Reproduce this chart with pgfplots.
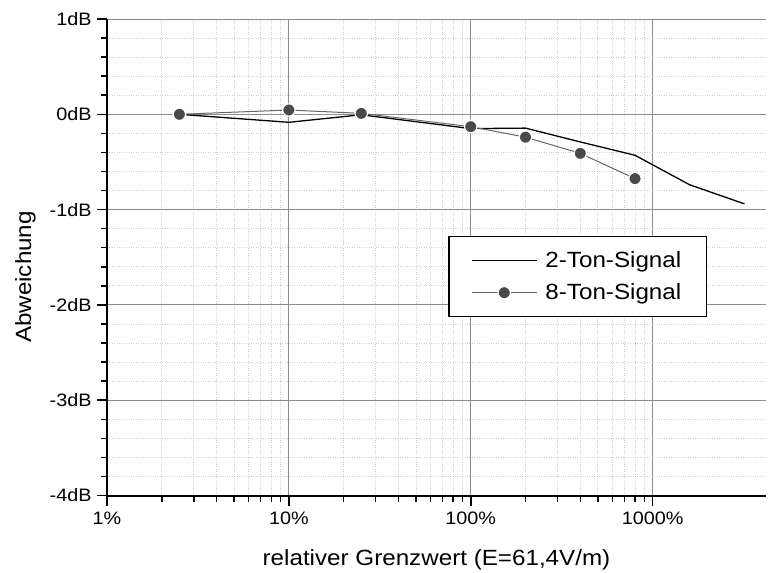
\documentclass[border=0pt]{standalone}
\usepackage{fontspec}
\setmainfont{Liberation Sans}[FakeStretch=1.1]
\usepackage{pgfplots}
\pgfplotsset{compat=1.18}
\definecolor{mk}{HTML}{4A4A4A}
\definecolor{ln8}{HTML}{666666}
\definecolor{majg}{HTML}{8C8C8C}
\definecolor{ming}{HTML}{D0D0D0}
\begin{document}
\begin{tikzpicture}
\begin{axis}[
  at={(0,0)}, anchor=south west,
  scale only axis, width=659pt, height=476.5pt,
  xmode=log, xmin=1, xmax=4200,
  ymin=-4, ymax=1,
  axis x line=bottom, axis y line=left,
  axis line style={-, line width=2pt, black},
  xtick={1,10,100,1000},
  xticklabels={1\%,10\%,100\%,1000\%},
  ytick={-4,-3,-2,-1,0,1},
  yticklabels={-4dB,-3dB,-2dB,-1dB,0dB,1dB},
  minor y tick num=4,
  tick align=outside,
  major tick length=10pt, minor tick length=6pt,
  every tick/.style={black, line width=1.5pt},
  grid=both,
  major grid style={majg, line width=1pt},
  minor grid style={ming, dotted, line width=0.8pt},
  tick label style={font=\fontsize{18}{21}\selectfont},
  xticklabel style={yshift=-3pt},
  yticklabel style={xshift=-2pt},
  xlabel={relativer Grenzwert (E=61,4V/m)},
  ylabel={Abweichung},
  label style={font=\fontsize{22}{26}\selectfont},
  xlabel style={at={(axis description cs:0.50,-0.1459)}, anchor=base},
  ylabel style={at={(axis description cs:-0.1396,0.4585)}, anchor=north, inner sep=0pt},
  legend cell align=left,
  legend image code/.code={\draw[mark repeat=2,mark phase=2,#1] plot coordinates {(0pt,0pt) (32.5pt,0pt) (65pt,0pt)};},
  legend style={at={(rel axis cs:0.518,0.545)}, anchor=north west,
    draw=black, line width=1.5pt, fill=white,
    font=\fontsize{22}{26}\selectfont,
    inner xsep=22pt, inner ysep=12pt, row sep=9pt,
    nodes={inner sep=3pt},
    /tikz/every odd column/.append style={column sep=5pt}},
]
\addplot[black, line width=1.3pt, mark=none] coordinates {
  (2.5,0) (10,-0.084) (25,-0.005) (100,-0.15) (200,-0.145) (400,-0.29) (800,-0.43) (1600,-0.74) (3200,-0.94)
};
\addlegendentry{2-Ton-Signal}
\addplot[ln8, line width=1pt, mark=*, mark size=6.2pt,
  mark options={fill=mk, draw=white, line width=1.2pt}] coordinates {
  (2.5,0) (10,0.045) (25,0.01) (100,-0.13) (200,-0.24) (400,-0.41) (800,-0.675)
};
\addlegendentry{8-Ton-Signal}
\end{axis}
\path[use as bounding box] (-107pt,-74.5pt) rectangle (661pt,495.5pt);
\end{tikzpicture}
\end{document}
